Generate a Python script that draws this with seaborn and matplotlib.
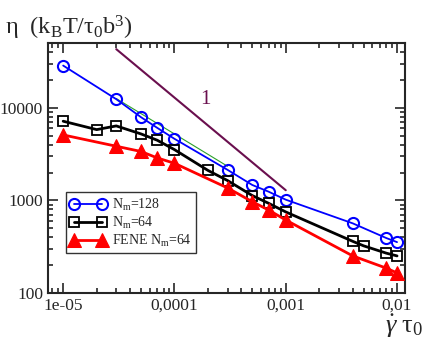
import numpy as np
import pandas as pd
import matplotlib
matplotlib.use("Agg")
import matplotlib.pyplot as plt
import matplotlib.ticker as mticker
import seaborn as sns

# data
x128 = [1e-5, 3e-5, 5e-5, 7e-5, 1e-4, 3e-4, 5e-4, 7e-4, 1e-3, 4e-3, 8e-3, 1e-2]
y128 = [28600, 12400, 7930, 6080, 4630, 2140, 1470, 1245, 1020, 566, 393, 355]
x64 = [1e-5, 2e-5, 3e-5, 5e-5, 7e-5, 1e-4, 2e-4, 3e-4, 5e-4, 7e-4, 1e-3, 4e-3, 5e-3, 8e-3, 1e-2]
y64 = [7170, 5820, 6380, 5230, 4470, 3540, 2110, 1640, 1130, 933, 752, 362, 324, 270, 252]
xfene = [1e-5, 3e-5, 5e-5, 7e-5, 1e-4, 3e-4, 5e-4, 7e-4, 1e-3, 4e-3, 8e-3, 1e-2]
yfene = [5100, 3850, 3380, 2880, 2520, 1365, 970, 790, 615, 252, 186, 165]
fit_x = [3e-5, 3e-4]
fit_y = [12600, 2340]
slope_x = [3e-5, 1e-3]
slope_y = [43000, 1290]
labels = ["N$_\\mathrm{m}$=128", "N$_\\mathrm{m}$=64", "FENE N$_\\mathrm{m}$=64"]
xtick_vals = [1e-5, 1e-4, 1e-3, 1e-2]
xtick_labels = ["1e-05", "0,0001", "0,001", "0,01"]
ytick_vals = [100, 1000, 10000]
ytick_labels = ["100", "1000", "10000"]

sns.set_style("ticks")
plt.rcParams['font.family'] = ['Liberation Serif', 'DejaVu Serif']
plt.rcParams['mathtext.fontset'] = 'custom'
plt.rcParams['mathtext.rm'] = 'Liberation Serif'
plt.rcParams['mathtext.it'] = 'Liberation Serif:italic'

fig = plt.figure(figsize=(4.36, 3.42), dpi=100)
ax = fig.add_axes([0.110, 0.143, 0.819, 0.731])

ax.set_xscale('log')
ax.set_yscale('log')

sns.lineplot(x=slope_x, y=slope_y, ax=ax, color='#6a0f4e', lw=1.5, zorder=1)
sns.lineplot(x=fit_x, y=fit_y, ax=ax, color='#2ca02c', lw=0.8, zorder=2)
sns.lineplot(x=x128, y=y128, ax=ax, color='#0000ff', lw=1.3, marker='o', ms=8,
             mfc='none', mec='#0000ff', mew=1.5, label=labels[0], zorder=3)
sns.lineplot(x=x64, y=y64, ax=ax, color='black', lw=2, marker='s', ms=6.5,
             mfc='none', mec='black', mew=1.3, label=labels[1], zorder=4)
sns.lineplot(x=xfene, y=yfene, ax=ax, color='#ff0000', lw=2, marker='^', ms=10,
             mfc='#ff0000', mec='#ff0000', label=labels[2], zorder=5)

ax.set_xlim(7.3e-6, 0.0118)
ax.set_ylim(100, 50000)

ax.xaxis.set_major_locator(mticker.FixedLocator(xtick_vals))
ax.xaxis.set_major_formatter(mticker.FixedFormatter(xtick_labels))
ax.xaxis.set_minor_locator(mticker.LogLocator(base=10, subs=np.arange(2, 10)))
ax.xaxis.set_minor_formatter(mticker.NullFormatter())
ax.yaxis.set_major_locator(mticker.FixedLocator(ytick_vals))
ax.yaxis.set_major_formatter(mticker.FixedFormatter(ytick_labels))
ax.yaxis.set_minor_locator(mticker.LogLocator(base=10, subs=np.arange(2, 10)))
ax.yaxis.set_minor_formatter(mticker.NullFormatter())

ax.tick_params(which='both', direction='in', top=True, right=True, width=1.2)
ax.tick_params(which='major', length=7, labelsize=12.5)
ax.tick_params(which='minor', length=3.5)
for s in ax.spines.values():
    s.set_linewidth(1.5)
ax.set_xlabel('')
ax.set_ylabel('')

ax.text(1.9e-4, 12200, "1", color='#6a0f4e', fontsize=15,
        ha='center', va='center')

fig.text(0.012, 0.9, "η  (k$_\\mathrm{B}$T/τ$_\\mathrm{0}$b$^\\mathrm{3}$)", fontsize=17.5,
         ha='left', va='baseline')
fig.text(0.882, 0.045, "$\\dot{\\gamma}$ τ$_\\mathrm{0}$", fontsize=19, ha='left', va='center')

leg = ax.legend(loc='lower left', bbox_to_anchor=(0.05, 0.16), numpoints=2,
                fontsize=10, frameon=True, fancybox=False, edgecolor='black',
                handlelength=2.6, borderpad=0.3, labelspacing=0.15, handletextpad=0.4,
                borderaxespad=0)
leg.get_frame().set_linewidth(1.0)

fig.savefig("out.png", dpi=100)
